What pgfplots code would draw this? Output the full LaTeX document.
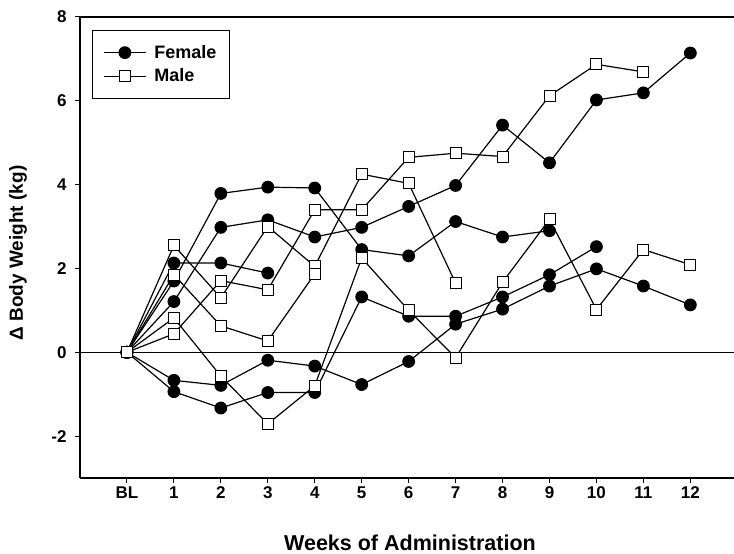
\documentclass[border=0pt]{standalone}
\usepackage{fontspec}
\setmainfont{Liberation Sans}
\usepackage{pgfplots}
\pgfplotsset{compat=1.18}

\begin{document}
\begin{tikzpicture}
\begin{axis}[
  name=ax,
  scale only axis,
  width=654bp, height=461bp,
  xmin=-1, xmax=12.93, ymin=-3, ymax=8,
  axis x line*=box, axis y line*=left,
  axis line style={line width=1.1bp},
  xtick pos=bottom, ytick pos=left,
  tick align=outside,
  major tick length=5bp,
  tick style={line width=1bp, black},
  xtick={0,1,2,3,4,5,6,7,8,9,10,11,12},
  xticklabels={BL,1,2,3,4,5,6,7,8,9,10,11,12},
  ytick={-2,0,2,4,6,8},
  yticklabels={-2,0,2,4,6,8},
  ticklabel style={font=\bfseries\fontsize{17bp}{19bp}\selectfont},
  yticklabel style={xshift=-5bp},
  xlabel={Weeks of Administration},
  ylabel={Δ Body Weight (kg)},
  every axis x label/.style={at={(axis description cs:0.5046,-0.141)}, anchor=center, font=\bfseries\fontsize{21.5bp}{24bp}\selectfont},
  every axis y label/.style={at={(axis description cs:-0.0948,0.488)}, anchor=center, rotate=90, font=\bfseries\fontsize{19bp}{22bp}\selectfont},
  every axis plot/.append style={black, line width=1.2bp},
  legend style={at={(axis description cs:0.018,0.972)}, anchor=north west,
    draw=black, line width=1bp, font=\bfseries\fontsize{18bp}{21bp}\selectfont,
    inner xsep=11bp, inner ysep=13bp, row sep=5bp,
    /tikz/every odd column/.append style={column sep=6bp}},
  legend cell align=left,
  legend image code/.code={\draw[mark repeat=2,mark phase=2] plot coordinates {(0bp,0bp) (21bp,0bp) (42bp,0bp)};},
  clip=false,
]
% zero reference line
\addplot[black, line width=0.8bp, forget plot] coordinates {(-1,0) (12.93,0)};

% Female
\addplot[mark=*, mark size=5.8bp] coordinates {(0,0)(1,1.70)(2,3.79)(3,3.94)(4,3.92)(5,2.45)(6,2.30)(7,3.12)(8,2.75)(9,2.90)};
\addlegendentry{Female}
\addplot[mark=*, mark size=5.8bp, forget plot] coordinates {(0,0)(1,1.21)(2,2.98)(3,3.16)(4,2.75)(5,2.98)(6,3.48)(7,3.98)(8,5.42)(9,4.52)(10,6.02)(11,6.19)(12,7.14)};
\addplot[mark=*, mark size=5.8bp, forget plot] coordinates {(0,0)(1,2.13)(2,2.13)(3,1.89)};
\addplot[mark=*, mark size=5.8bp, forget plot] coordinates {(0,0)(1,-0.67)(2,-0.79)(3,-0.19)(4,-0.33)(5,-0.77)(6,-0.22)(7,0.67)(8,1.03)(9,1.58)(10,1.99)(11,1.58)(12,1.13)};
\addplot[mark=*, mark size=5.8bp, forget plot] coordinates {(0,0)(1,-0.94)(2,-1.33)(3,-0.96)(4,-0.96)(5,1.32)(6,0.86)(7,0.86)(8,1.32)(9,1.85)(10,2.52)};

% Male
\addplot[mark=square*, mark size=5.5bp, mark options={fill=white, line width=0.9bp}] coordinates {(0,0)(1,2.55)(2,1.30)(3,3.00)(4,2.05)(5,4.25)(6,4.03)(7,1.65)};
\addlegendentry{Male}
\addplot[mark=square*, mark size=5.5bp, mark options={fill=white, line width=0.9bp}, forget plot] coordinates {(0,0)(1,1.85)(2,0.63)(3,0.27)(4,1.87)};
\addplot[mark=square*, mark size=5.5bp, mark options={fill=white, line width=0.9bp}, forget plot] coordinates {(0,0)(1,0.82)(2,-0.57)(3,-1.71)(4,-0.80)(5,2.25)(6,1.00)(7,-0.13)(8,1.67)(9,3.17)(10,1.02)(11,2.45)(12,2.09)};
\addplot[mark=square*, mark size=5.5bp, mark options={fill=white, line width=0.9bp}, forget plot] coordinates {(0,0)(1,0.44)(2,1.71)(3,1.49)(4,3.40)(5,3.40)(6,4.65)(7,4.75)(8,4.67)(9,6.12)(10,6.87)(11,6.69)};
\end{axis}
\pgfresetboundingbox
\path[use as bounding box] ([shift={(-80bp,-76bp)}]ax.south west) rectangle ([shift={(654bp,478bp)}]ax.south west);
\end{tikzpicture}
\end{document}
